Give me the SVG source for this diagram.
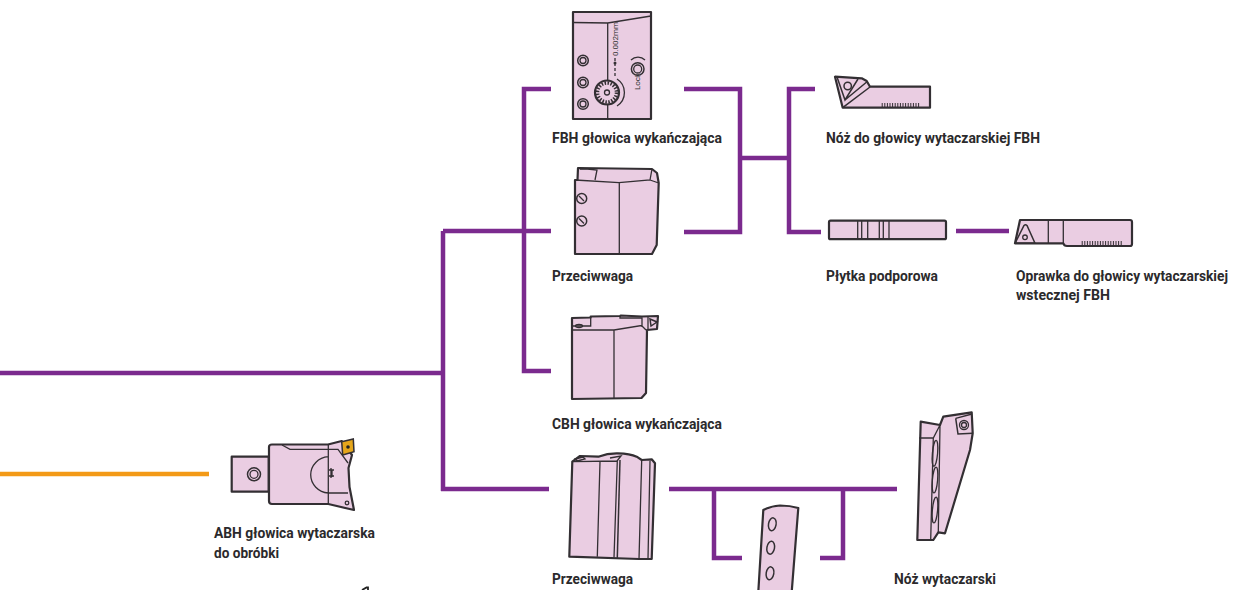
<svg xmlns="http://www.w3.org/2000/svg" width="1234" height="590" viewBox="0 0 1234 590">
<style>
.t{font-family:"Roboto","Liberation Sans",sans-serif;font-weight:700;font-size:14px;fill:#2b2a2c}
.s{font-family:"Roboto","Liberation Sans",sans-serif;font-size:8px;fill:#333}
.c{fill:none;stroke:#7b2a8e;stroke-width:4.500}
.o{fill:none;stroke:#f39a17;stroke-width:4.500}
.b{fill:#eacde2;stroke:#332f33;stroke-width:2.200;stroke-linejoin:round}
.l{fill:none;stroke:#332f33;stroke-width:1.300}
.h{fill:none;stroke:#332f33;stroke-width:1.500}
.k{fill:none;stroke:#332f33;stroke-width:4;stroke-dasharray:1 1.600}
</style>
<rect width="1234" height="590" fill="#fff"/>
<g id="connectors">
<path class="c" d="M0 373H443M443 231V491M441 489H549M443 231H524M551 89H524V371H551M524 231H551"/>
<path class="c" d="M684 89H740V232H684M740 158H789M815 89H789V232H821M956 231H1009"/>
<path class="c" d="M669 489H897M714 489V558H742M843 489V558H820"/>
<path class="o" d="M0 474H209"/>
</g>
<g id="fbh">
<rect class="b" x="573" y="12" width="78" height="107"/>
<path class="l" d="M573 22.500L607.700 23L651 16M607.700 23V119"/>
<circle class="h" cx="583" cy="60.500" r="5.300"/><circle class="l" cx="583" cy="60.500" r="3"/>
<circle class="h" cx="583" cy="82.500" r="5.300"/><circle class="l" cx="583" cy="82.500" r="3"/>
<circle class="h" cx="583" cy="104" r="5.300"/><circle class="l" cx="583" cy="104" r="3"/>
<circle class="b" cx="607" cy="92.500" r="12" stroke-width="1.500"/>
<circle cx="607" cy="92.500" r="9.500" fill="none" stroke="#332f33" stroke-width="3.500" stroke-dasharray="1.500 1.500"/>
<circle class="l" cx="607" cy="92.500" r="2.500"/>
<path class="l" d="M617 79A16 16 0 0 1 617 106"/>
<circle class="h" cx="637.700" cy="69" r="6.300"/><circle class="l" cx="637.700" cy="69" r="4"/>
<path class="l" d="M631 60A10 10 0 0 1 645 60"/>
<text class="s" transform="translate(640 90) rotate(-90)">Lock</text>
<text class="s" transform="translate(618 56) rotate(-90)">0.002mm</text>
<circle cx="615" cy="63" r="1.500" fill="#332f33"/>
<path class="l" d="M615 58V76" stroke-dasharray="3 2"/>
<text class="t" x="552" y="143" textLength="170" lengthAdjust="spacingAndGlyphs">FBH głowica wykańczająca</text>
</g>
<g id="przeciwwaga1">
<path class="b" d="M578 168L652 169L657 173L658.700 183L656.700 245L652 254H575V180H577.500Z"/>
<path class="l" d="M575 180L619 182.700L650 180L652 169M650 180L658.700 183M619.300 182.700V254M578 168L597 170L595 180M580 169H590"/>
<circle class="h" cx="581.700" cy="198.500" r="5"/><circle class="h" cx="581.700" cy="221" r="5"/>
<path class="l" d="M579 196L584 201M579 218.500L584 223.500"/>
<text class="t" x="552" y="281" textLength="81" lengthAdjust="spacingAndGlyphs">Przeciwwaga</text>
</g>
<g id="cbh">
<path class="b" d="M572 318L590.700 317.500V316.500L620 316L621 315.500L642 316.500L658 316L657 329L647 330L646 393L641.500 398L572 399Z"/>
<path class="l" d="M572 330L614 330L641.500 325.500L646 330M614 330V399M572 326H590.700V317.500M620 316V318H642V327M648 317V329"/>
<ellipse class="l" cx="579" cy="326" rx="3.500" ry="1.500"/>
<path class="h" d="M650 319L657 322L651 326Z"/>
<text class="t" x="552" y="429" textLength="170" lengthAdjust="spacingAndGlyphs">CBH głowica wykańczająca</text>
</g>
<g id="abh">
<rect class="b" x="231.700" y="456.700" width="37" height="35"/>
<circle class="h" cx="254" cy="474.300" r="6.500"/><circle class="l" cx="254" cy="474.300" r="4"/>
<path class="b" d="M269 447Q269 444.500 272 444.500H328L341.700 441L352 455L348.500 468L349.500 487L354 510L328.300 504H272Q269 504 269 501Z"/>
<path class="l" d="M282 445L290 449.300H338L348 463M328.300 444.300V504M328.300 456.700A19 18.200 0 0 0 328.300 493H348"/>
<path class="l" d="M331 468V478M329 470H334M329 476H334M332 470V477" stroke-width="1.600"/>
<circle class="l" cx="347" cy="503" r="1.800"/>
<path d="M341.700 441.700L353.300 439L354 451.700L342.700 455Z" fill="#e5a61b" stroke="#332f33" stroke-width="1.500"/>
<circle cx="348" cy="447" r="1.800" fill="#222"/>
<text class="t" x="214" y="538" textLength="161" lengthAdjust="spacingAndGlyphs">ABH głowica wytaczarska</text>
<text class="t" x="214" y="558" textLength="65" lengthAdjust="spacingAndGlyphs">do obróbki</text>
</g>
<path id="mark" d="M362 590L366.500 587.500H368V590" fill="none" stroke="#222" stroke-width="1.800"/>
<g id="przeciwwaga2">
<path class="b" d="M572.300 461.700L580 456L598.300 456.700Q608 453 618 453.300Q630 453.500 636.700 456.700L641.700 460L651.700 459.300L655 463.300L651.700 559H639L569.300 556.700Z"/>
<path class="l" d="M572.300 461.700L617.300 461L614 557.700M600 461.700L597.300 556.700M641.700 460L639 559M650 461L648 559M575 459L583 457L585 459L577 461ZM610 458L621 456L617 461"/>
<path class="h" d="M620 460L617.300 558"/>
<text class="t" x="552" y="584" textLength="81" lengthAdjust="spacingAndGlyphs">Przeciwwaga</text>
</g>
<g id="podkladka">
<path class="b" d="M763.300 510Q771 506 780 505.500Q790 505.500 798.300 508L791.700 592H758.300Z"/>
<ellipse class="h" cx="772.300" cy="524.300" rx="3.800" ry="6.500" transform="rotate(10 772.300 524.300)"/>
<ellipse class="h" cx="770.700" cy="547.700" rx="3.800" ry="6.500" transform="rotate(10 770.700 547.700)"/>
<ellipse class="h" cx="770" cy="573.300" rx="3.800" ry="6.500" transform="rotate(10 770 573.300)"/>
</g>
<g id="noz">
<path class="b" d="M920.700 421.700L940 425L943.300 416.700L971.700 412.300L972.700 433.300L970 450L945 533.300L938.300 532.300L933.300 540H917.300Z"/>
<path class="l" d="M919.300 438H933.300L940 425M933.300 438L930.700 540M940 425L938.300 532.300M955.700 418.300L972 414"/>
<path class="h" d="M955.700 418.300L958 434L972.700 433.300"/>
<circle class="l" cx="964" cy="425" r="4.500"/><circle class="l" cx="964" cy="425" r="2.500"/>
<ellipse class="l" cx="935" cy="453.300" rx="2.600" ry="13" transform="rotate(5 935 453.300)"/>
<ellipse class="l" cx="935" cy="480" rx="2.600" ry="13" transform="rotate(5 935 480)"/>
<ellipse class="l" cx="935" cy="510" rx="2.600" ry="13" transform="rotate(5 935 510)"/>
<text class="t" x="894" y="584" textLength="102" lengthAdjust="spacingAndGlyphs">Nóż wytaczarski</text>
</g>
<g id="noz-fbh">
<path class="b" d="M835 76.700L861.700 78.300L866.700 81L870 86.700H930V107.700H842.700Z"/>
<path class="h" d="M837 77L845 100L858 79M845 100L866.700 82M842.700 107.700L870 87"/>
<circle class="h" cx="847.700" cy="86" r="3.700"/>
<path class="k" d="M881.700 105H920"/>
<text class="t" x="826" y="143" textLength="214" lengthAdjust="spacingAndGlyphs">Nóż do głowicy wytaczarskiej FBH</text>
</g>
<g id="plytka">
<rect class="b" x="829" y="220.700" width="117" height="18.500" rx="1.500"/>
<path class="l" d="M857.700 221V239M861.700 221V239M867.700 221V239M879.300 221V239M883.300 221V239M889 221V239"/>
<text class="t" x="826" y="281" textLength="112" lengthAdjust="spacingAndGlyphs">Płytka podporowa</text>
</g>
<g id="oprawka">
<path class="b" d="M1020 220H1130Q1132 220 1132 222V244Q1132 246 1130 246H1067Q1064 246 1063.300 243.300H1015Z"/>
<path class="l" d="M1048.300 220V243M1063.300 220V243"/>
<path class="h" d="M1015 243.300L1024 225.500Q1025.500 224 1027 225.500L1035 243.300Z" stroke-width="2"/>
<circle class="l" cx="1025" cy="237.300" r="2.300"/>
<path class="k" d="M1081.700 243H1123"/>
<text class="t" x="1016" y="281" textLength="212" lengthAdjust="spacingAndGlyphs">Oprawka do głowicy wytaczarskiej</text>
<text class="t" x="1016" y="300" textLength="94" lengthAdjust="spacingAndGlyphs">wstecznej FBH</text>
</g>
</svg>
